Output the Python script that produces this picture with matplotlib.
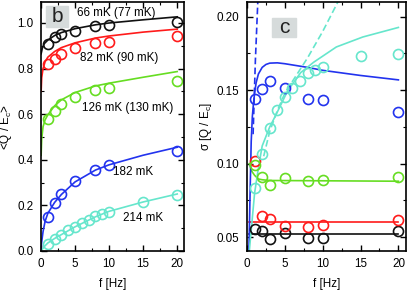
import matplotlib
matplotlib.use("Agg")
import matplotlib.pyplot as plt
from matplotlib.ticker import MultipleLocator, FormatStrFormatter
from matplotlib.patches import Rectangle

plt.rcParams['font.family'] = ['Liberation Sans', 'DejaVu Sans']
plt.rcParams['mathtext.fontset'] = 'custom'
plt.rcParams['mathtext.rm'] = 'Liberation Sans'
plt.rcParams['mathtext.it'] = 'Liberation Sans:italic'

# ---------------- data: panel b (<Q/Ec>) ----------------
f_b = [1, 2, 3, 5, 8, 10, 20]
q66 = [0.907, 0.937, 0.951, 0.966, 0.985, 0.99, 1.003]
q82 = [0.821, 0.841, 0.866, 0.89, 0.912, 0.918, 0.941]
q126 = [0.578, 0.614, 0.643, 0.675, 0.704, 0.714, 0.746]
q182 = [0.15, 0.212, 0.248, 0.309, 0.355, 0.377, 0.437]
f_214 = [1, 2, 3, 4, 5, 6, 7, 8, 9, 10, 15, 20]
q214 = [0.032, 0.051, 0.07, 0.091, 0.107, 0.122, 0.136, 0.153, 0.162, 0.172, 0.216, 0.246]

# fit curves panel b
fit66_f = [0.02, 0.2, 0.5, 1, 2, 3, 5, 8, 10, 15, 20]
fit66 = [0.865, 0.89, 0.91, 0.925, 0.945, 0.958, 0.975, 0.992, 1.0, 1.014, 1.027]
fit82_f = [0.02, 0.1, 0.3, 0.6, 1, 2, 3, 5, 8, 10, 15, 20]
fit82 = [0.70, 0.76, 0.80, 0.83, 0.85, 0.875, 0.892, 0.913, 0.934, 0.943, 0.96, 0.973]
fit126_f = [0.02, 0.1, 0.3, 0.6, 1, 2, 3, 5, 8, 10, 15, 20]
fit126 = [0.42, 0.49, 0.545, 0.575, 0.597, 0.637, 0.663, 0.695, 0.724, 0.736, 0.762, 0.787]
fit182_f = [0.0, 0.1, 0.3, 0.6, 1, 2, 3, 5, 8, 10, 15, 20]
fit182 = [0.0, 0.04, 0.085, 0.13, 0.165, 0.213, 0.248, 0.303, 0.355, 0.378, 0.42, 0.455]
fit214_f = [0.0, 0.5, 1, 2, 3, 5, 8, 10, 15, 20]
fit214 = [0.0, 0.02, 0.035, 0.055, 0.072, 0.106, 0.15, 0.174, 0.215, 0.25]

# ---------------- data: panel c (sigma) ----------------
f_c = [1, 2, 3, 5, 8, 10, 20]
s66 = [0.0552, 0.0538, 0.0484, 0.0527, 0.0491, 0.0493, 0.054]
s82 = [0.1016, 0.0641, 0.0623, 0.0578, 0.0565, 0.0581, 0.0614]
s126 = [0.0989, 0.091, 0.0854, 0.0899, 0.0879, 0.0888, 0.091]
s182 = [0.1438, 0.1511, 0.1564, 0.1518, 0.1443, 0.1436, 0.1349]
s214 = [0.0836, 0.1067, 0.1243, 0.1365, 0.1454, 0.1514, 0.1564, 0.1615, 0.1635, 0.1656, 0.1734, 0.1743]

sfit66_f = [0.3, 20]
sfit66 = [0.052, 0.052]
sfit82_f = [0.3, 20]
sfit82 = [0.0603, 0.0603]
sfit126_f = [0.3, 0.6, 1.0, 1.5, 2, 3, 20]
sfit126 = [0.1, 0.095, 0.092, 0.0895, 0.089, 0.0885, 0.088]
sfit182_f = [0.25, 0.4, 0.55, 0.7, 0.85, 1.0, 1.2, 1.5, 2.0, 2.5, 3, 4, 5, 8, 10, 15, 20]
sfit182 = [0.0405, 0.08, 0.115, 0.132, 0.141, 0.148, 0.155, 0.161, 0.1655, 0.1675, 0.1684, 0.1686, 0.168,
           0.1655, 0.1635, 0.160, 0.157]
sdash182_f = [0.8, 0.95, 1.1, 1.3, 1.5]
sdash182 = [0.12, 0.145, 0.17, 0.195, 0.22]
sfit214_f = [0.3, 1.0, 1.5, 2, 3, 3.85, 5.36, 7.1, 8.8, 11.8, 15.3, 20]
sfit214 = [0.0405, 0.08, 0.097, 0.112, 0.125, 0.1335, 0.1495, 0.162, 0.169, 0.1794, 0.1862, 0.1927]
sdash214_f = [2.2, 3, 4, 5, 6, 7, 8, 9, 10, 11, 12.2]
sdash214 = [0.105, 0.122, 0.136, 0.148, 0.156, 0.164, 0.172, 0.181, 0.19, 0.2, 0.212]

labels_b = ['66 mK (77 mK)', '82 mK (90 mK)', '126 mK (130 mK)', '182 mK', '214 mK']

C_BLACK = '#111111'
C_RED = '#ff1a1a'
C_GREEN = '#66dd22'
C_BLUE = '#2233ee'
C_CYAN = '#66e6cc'

fig = plt.figure(figsize=(4.08, 2.91), dpi=100)

# panel label boxes (figure coords, behind axes)
fig.patches.append(Rectangle((46 / 408, 1 - 27 / 291), 22 / 408, 21 / 291,
                             transform=fig.transFigure, color='#d6dbdb', zorder=0))
fig.patches.append(Rectangle((272 / 408, 1 - 37 / 291), 24 / 408, 19 / 291,
                             transform=fig.transFigure, color='#d6dbdb', zorder=0))

axb = fig.add_axes([0.1005, 0.1375, 0.3505, 0.854])
axc = fig.add_axes([0.6055, 0.1375, 0.3895, 0.854])
axb.patch.set_alpha(0)
axc.patch.set_alpha(0)

mk = dict(marker='o', ms=7.2, mfc='none', mew=1.2, ls='none')
lw = 1.2
fs = 8.4

# panel b
for (ff, yy, c) in [(fit66_f, fit66, C_BLACK), (fit82_f, fit82, C_RED), (fit126_f, fit126, C_GREEN),
                    (fit182_f, fit182, C_BLUE), (fit214_f, fit214, C_CYAN)]:
    axb.plot(ff, yy, color=c, lw=lw)
for (ff, yy, c) in [(f_b, q66, C_BLACK), (f_b, q82, C_RED), (f_b, q126, C_GREEN),
                    (f_b, q182, C_BLUE), (f_214, q214, C_CYAN)]:
    axb.plot(ff, yy, color=c, **mk)

axb.set_xlim(0, 21)
axb.set_ylim(0, 1.09)
axb.xaxis.set_major_locator(MultipleLocator(5))
axb.xaxis.set_minor_locator(MultipleLocator(2.5))
axb.yaxis.set_major_locator(MultipleLocator(0.2))
axb.yaxis.set_minor_locator(MultipleLocator(0.1))
axb.yaxis.set_major_formatter(FormatStrFormatter('%.1f'))
axb.set_ylabel(r'<Q / E$_\mathregular{c}$>', fontsize=fs, labelpad=2)
axb.set_xlabel('f [Hz]', fontsize=fs, labelpad=6)

axb.text(11.0, 1.045, labels_b[0], fontsize=fs, ha='center', va='center')
axb.text(11.5, 0.845, labels_b[1], fontsize=fs, ha='center', va='center')
axb.text(12.7, 0.625, labels_b[2], fontsize=fs, ha='center', va='center')
axb.text(13.5, 0.347, labels_b[3], fontsize=fs, ha='center', va='center')
axb.text(15.0, 0.145, labels_b[4], fontsize=fs, ha='center', va='center')

# panel c
for (ff, yy, c) in [(sfit66_f, sfit66, C_BLACK), (sfit82_f, sfit82, C_RED), (sfit126_f, sfit126, C_GREEN),
                    (sfit182_f, sfit182, C_BLUE), (sfit214_f, sfit214, C_CYAN)]:
    axc.plot(ff, yy, color=c, lw=lw)
axc.plot(sdash182_f, sdash182, color=C_BLUE, lw=lw, ls=(0, (4, 2)))
axc.plot(sdash214_f, sdash214, color=C_CYAN, lw=lw, ls=(0, (4, 2)))
for (ff, yy, c) in [(f_c, s66, C_BLACK), (f_c, s82, C_RED), (f_c, s126, C_GREEN),
                    (f_c, s182, C_BLUE), (f_214, s214, C_CYAN)]:
    axc.plot(ff, yy, color=c, **mk)

axc.set_xlim(0, 21)
axc.set_ylim(0.0405, 0.2097)
axc.xaxis.set_major_locator(MultipleLocator(5))
axc.xaxis.set_minor_locator(MultipleLocator(2.5))
axc.yaxis.set_major_locator(MultipleLocator(0.05))
axc.yaxis.set_minor_locator(MultipleLocator(0.025))
axc.yaxis.set_major_formatter(FormatStrFormatter('%.2f'))
axc.set_ylabel(r'σ [Q / E$_\mathregular{c}$]', fontsize=fs, labelpad=2)
axc.set_xlabel('f [Hz]', fontsize=fs, labelpad=6)

for ax in (axb, axc):
    ax.tick_params(which='both', direction='in', top=True, right=True, labelsize=fs)
    ax.tick_params(axis='y', which='major', pad=5.5)
    ax.tick_params(axis='x', which='major', pad=5)
    ax.tick_params(which='major', length=4, width=1)
    ax.tick_params(which='minor', length=2.5, width=0.8)
    for s in ax.spines.values():
        s.set_linewidth(1.2)

fig.text(57 / 408, 1 - 16.5 / 291, 'b', fontsize=15, ha='center', va='center', color='#222222')
fig.text(284 / 408, 1 - 27.5 / 291, 'c', fontsize=15, ha='center', va='center', color='#222222')

fig.savefig('out.png', dpi=100)
